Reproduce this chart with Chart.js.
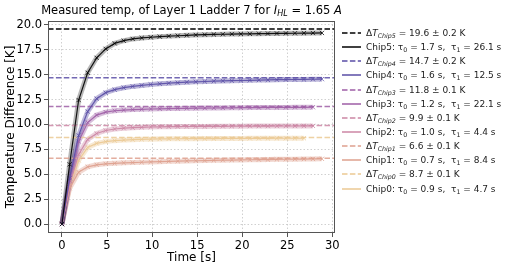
<!DOCTYPE html>
<html>
<head>
<meta charset="utf-8">
<script src="https://cdn.jsdelivr.net/npm/chart.js@4/dist/chart.umd.min.js"></script>
<style>
    body { margin: 0; background: #fff; font-family: "DejaVu Sans", sans-serif; }
    #wrap { position: relative; width: 508px; height: 268px; }
    #title { position: absolute; left: 0; width: 383px; top: 3px; text-align: center; font-size: 11.5px; white-space: nowrap; color: #000; }
    #legend { position: absolute; left: 342px; top: 26px; font-size: 9px; color: #222; }
    .row { height: 14.15px; display: flex; align-items: center; white-space: nowrap; }
    .row svg { margin-right: 4px; flex: none; }
    sub { font-size: 70%; vertical-align: -0.3em; line-height: 0; }
</style>
</head>
<body>
<div id="wrap">
    <canvas id="temp-plot" width="508" height="268"></canvas>
    <div id="title">Measured temp, of Layer 1 Ladder 7 for <i>I</i><sub><i>HL</i></sub> = 1.65 <i>A</i></div>
    <div id="legend"></div>
</div>
<script>
// measurement times [s]
const times = [0, 0.85, 1.85, 2.85, 3.85, 4.85, 5.85, 6.85, 7.85, 8.85, 9.85, 10.85, 11.85, 12.85, 13.85,
    14.85, 15.85, 16.85, 17.85, 18.85, 19.85, 20.85, 21.85, 22.85, 23.85, 24.85, 25.85, 26.85, 27.85, 28.85];

// temperature difference per chip [K]
const chip0 = [0, 3.8, 6.4, 7.7, 8.1, 8.28, 8.38, 8.44, 8.48, 8.51, 8.53, 8.55, 8.56, 8.57, 8.58, 8.58,
    8.59, 8.59, 8.6, 8.6, 8.6, 8.61, 8.61, 8.61, 8.62, 8.62, 8.62, 8.62];
const chip1 = [0, 3.6, 5.2, 5.75, 5.95, 6.05, 6.1, 6.15, 6.18, 6.21, 6.24, 6.27, 6.3, 6.32, 6.34, 6.36,
    6.38, 6.4, 6.42, 6.43, 6.44, 6.46, 6.47, 6.48, 6.5, 6.51, 6.52, 6.53, 6.54, 6.55];
const chip2 = [0, 4.0, 7.0, 8.5, 9.1, 9.4, 9.55, 9.63, 9.68, 9.72, 9.75, 9.77, 9.78, 9.79, 9.8, 9.8,
    9.81, 9.82, 9.82, 9.83, 9.83, 9.84, 9.84, 9.84, 9.85, 9.85, 9.85, 9.86, 9.86];
const chip3 = [0, 4.4, 8.3, 10.2, 10.95, 11.25, 11.38, 11.45, 11.5, 11.53, 11.56, 11.58, 11.6, 11.62,
    11.63, 11.64, 11.65, 11.66, 11.67, 11.68, 11.69, 11.7, 11.7, 11.71, 11.72, 11.72, 11.73, 11.73, 11.74];
const chip4 = [0, 4.6, 8.9, 11.3, 12.6, 13.2, 13.5, 13.7, 13.83, 13.93, 14.02, 14.09, 14.15, 14.2, 14.25,
    14.29, 14.32, 14.35, 14.38, 14.4, 14.42, 14.44, 14.46, 14.48, 14.5, 14.51, 14.52, 14.53, 14.55, 14.56];
const chip5 = [0, 6.0, 12.46, 15.2, 16.7, 17.6, 18.15, 18.42, 18.6, 18.7, 18.77, 18.83, 18.88, 18.92,
    18.96, 19.0, 19.03, 19.05, 19.07, 19.09, 19.1, 19.11, 19.13, 19.14, 19.15, 19.16, 19.17, 19.18, 19.19, 19.2];

// fit results, index = chip number
const chipNames = ["Chip0", "Chip1", "Chip2", "Chip3", "Chip4", "Chip5"];
const deltaT = [8.7, 6.6, 9.9, 11.8, 14.7, 19.6];
const deltaTErr = [0.1, 0.1, 0.1, 0.1, 0.2, 0.2];
const tau0 = [0.9, 0.7, 1.0, 1.2, 1.6, 1.7];
const tau1 = [4.7, 8.4, 4.4, 22.1, 12.5, 26.1];

const xTicks = [0, 5, 10, 15, 20, 25, 30];
const yTicks = [0, 2.5, 5, 7.5, 10, 12.5, 15, 17.5, 20];
const xMin = -1.55, xMax = 30.3, yMin = -0.9, yMax = 20.4;

const chipData = [chip0, chip1, chip2, chip3, chip4, chip5];
const colors = ["#ebc993", "#dea08e", "#cc86a4", "#9e5ea6", "#5a4ea6", "#000000"];

function withAlpha(hex, a) {
    const n = parseInt(hex.slice(1), 16);
    return `rgba(${(n >> 16) & 255},${(n >> 8) & 255},${n & 255},${a})`;
}

function buildDatasets() {
    const sets = [];
    for (let i = 5; i >= 0; i--) {
        const pts = chipData[i].map((v, k) => ({ x: times[k], y: v }));
        sets.push({
            label: `dT ${chipNames[i]}`,
            data: [{ x: xMin, y: deltaT[i] }, { x: xMax, y: deltaT[i] }],
            borderColor: i === 5 ? "#000" : withAlpha(colors[i], 0.85),
            borderWidth: 1.5,
            borderDash: [5.5, 2.4],
            pointRadius: 0,
            showLine: true,
            order: 2,
        });
        sets.push({
            label: `${chipNames[i]} band`,
            data: pts,
            borderColor: withAlpha(colors[i], i === 5 ? 0.28 : 0.4),
            borderWidth: 5,
            pointRadius: 0,
            showLine: true,
            order: 3,
        });
        sets.push({
            label: chipNames[i],
            data: pts,
            borderColor: withAlpha(colors[i], 0.9),
            borderWidth: 1.2,
            pointStyle: "crossRot",
            pointRadius: 3,
            pointBorderWidth: 1,
            pointBorderColor: withAlpha(colors[i], 0.75),
            showLine: true,
            order: 1,
        });
    }
    return sets;
}

function buildLegend() {
    const el = document.getElementById("legend");
    let html = "";
    for (let i = 5; i >= 0; i--) {
        const c = i === 5 ? "#000" : colors[i];
        html += `<div class="row"><svg width="20" height="10"><line x1="0" y1="5" x2="19" y2="5" stroke="${c}" stroke-width="1.5" stroke-dasharray="5.5 2.4"/></svg>`
            + `<span>Δ<i>T</i><sub><i>${chipNames[i]}</i></sub> = ${deltaT[i].toFixed(1)} ± ${deltaTErr[i].toFixed(1)} K</span></div>`;
        html += `<div class="row"><svg width="20" height="10"><line x1="0" y1="5" x2="19" y2="5" stroke="${c}" stroke-width="1.5"/></svg>`
            + `<span>${chipNames[i]}: τ<sub>0</sub> = ${tau0[i].toFixed(1)} s,&nbsp; τ<sub>1</sub> = ${tau1[i].toFixed(1)} s</span></div>`;
    }
    el.innerHTML = html;
}

const frame = {
    id: "frame",
    afterDraw(chart) {
        const { ctx, chartArea: a } = chart;
        ctx.save();
        ctx.strokeStyle = "#555";
        ctx.lineWidth = 1;
        ctx.strokeRect(a.left + 0.5, a.top + 0.5, a.right - a.left - 1, a.bottom - a.top - 1);
        ctx.restore();
    },
};

function renderChart() {
    const tickFont = { family: "DejaVu Sans", size: 11.5 };
    const ctx = document.getElementById("temp-plot").getContext("2d");
    new Chart(ctx, {
        type: "scatter",
        data: { datasets: buildDatasets() },
        options: {
            responsive: false,
            animation: false,
            layout: { padding: { left: 0, right: 173, top: 21, bottom: 0 } },
            scales: {
                x: {
                    type: "linear",
                    min: xMin,
                    max: xMax,
                    afterBuildTicks: (s) => { s.ticks = xTicks.map(v => ({ value: v })); },
                    afterFit: (s) => { s.height = 35; },
                    ticks: { font: tickFont, color: "#000", padding: 2, maxRotation: 0 },
                    grid: { color: "#c4c4c4", lineWidth: 0.8, tickLength: 4, tickColor: "#555", tickWidth: 1 },
                    border: { display: false, dash: [1.5, 2] },
                    title: { display: true, text: "Time [s]", font: { family: "DejaVu Sans", size: 12 }, color: "#000", padding: { top: 0, bottom: 3 } },
                },
                y: {
                    min: yMin,
                    max: yMax,
                    afterBuildTicks: (s) => { s.ticks = yTicks.map(v => ({ value: v })); },
                    afterFit: (s) => { s.width = 48; },
                    ticks: { font: tickFont, color: "#000", padding: 2, callback: (v) => v.toFixed(1) },
                    grid: { color: "#c4c4c4", lineWidth: 0.8, tickLength: 4, tickColor: "#555", tickWidth: 1 },
                    border: { display: false, dash: [1.5, 2] },
                    title: { display: true, text: "Temperature Difference [K]", font: { family: "DejaVu Sans", size: 12 }, color: "#000", padding: { top: 4, bottom: 0 } },
                },
            },
            plugins: {
                legend: { display: false },
                tooltip: { enabled: false },
            },
        },
        plugins: [frame],
    });
}

buildLegend();
renderChart();
</script>
</body>
</html>
